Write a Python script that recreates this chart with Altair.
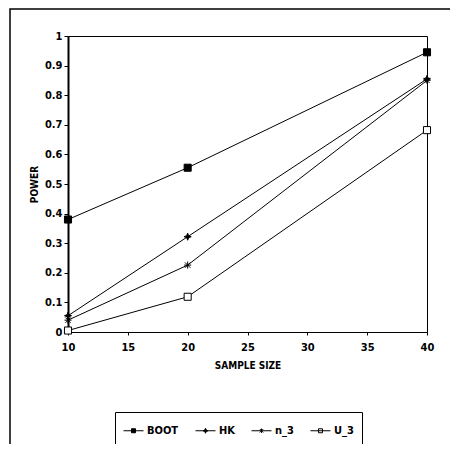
import altair as alt
import pandas as pd

sample_sizes = [10, 20, 40]
series_names = ["BOOT", "HK", "n_3", "U_3"]
boot = [0.38, 0.555, 0.945]
hk = [0.055, 0.322, 0.855]
n3 = [0.04, 0.226, 0.85]
u3 = [0.005, 0.119, 0.682]
x_ticks = [10, 15, 20, 25, 30, 35, 40]
y_ticks = [0, 0.1, 0.2, 0.3, 0.4, 0.5, 0.6, 0.7, 0.8, 0.9, 1]

rows = []
for name, vals in zip(series_names, [boot, hk, n3, u3]):
    for s, v in zip(sample_sizes, vals):
        rows.append({"series": name, "size": s, "power": v})
df = pd.DataFrame(rows)

FONT = "DejaVu Sans Condensed, DejaVu Sans, sans-serif"

star4 = "M0,-1L0.28,-0.28L1,0L0.28,0.28L0,1L-0.28,0.28L-1,0L-0.28,-0.28Z"
aster = "M-1,0L1,0M0,-1L0,1M-0.75,-0.75L0.75,0.75M-0.75,0.75L0.75,-0.75"
plot_shapes = ["square", star4, aster, "square"]
plot_fills = ["black", "black", "white", "white"]

sq = "M-0.2,-0.2L0.2,-0.2L0.2,0.2L-0.2,0.2Z"
leg_shapes = [
    "M-1,0L1,0" + sq,
    "M-1,0L1,0M0,-0.25L0.07,-0.07L0.25,0L0.07,0.07L0,0.25L-0.07,0.07L-0.25,0L-0.07,-0.07Z",
    "M-1,0L1,0M0,-0.22L0,0.22M-0.17,-0.17L0.17,0.17M-0.17,0.17L0.17,-0.17",
    "M-1,0L1,0" + sq,
]

x_enc = alt.X("size:Q", scale=alt.Scale(domain=[10, 40], nice=False, zero=False),
              axis=alt.Axis(title="SAMPLE SIZE", values=x_ticks,
                            grid=False, tickSize=3, labelPadding=6, titlePadding=8,
                            labelFlush=False, labelOverlap=False))
y_enc = alt.Y("power:Q", scale=alt.Scale(domain=[0, 1], nice=False),
              axis=alt.Axis(title="POWER", values=y_ticks,
                            format=".1~f", grid=False, tickSize=4, labelPadding=2,
                            titlePadding=5, domainWidth=2, labelFlush=False, labelOverlap=False))

frame = alt.Chart(pd.DataFrame({"a": [0]})).mark_rect(
    fillOpacity=0, stroke="black", strokeWidth=1.5
).encode(x=alt.value(-58), x2=alt.value(400), y=alt.value(-27), y2=alt.value(430))

lines = alt.Chart(df).mark_line(color="black", strokeWidth=1).encode(
    x=x_enc, y=y_enc, detail="series:N"
)

points = alt.Chart(df).mark_point(stroke="black", strokeWidth=1, opacity=1, size=50).encode(
    x=x_enc, y=y_enc,
    shape=alt.Shape("series:N", scale=alt.Scale(domain=series_names, range=plot_shapes), legend=None),
    fill=alt.Fill("series:N", scale=alt.Scale(domain=series_names, range=plot_fills), legend=None),
)

leg = alt.Legend(title=None, orient="none", legendX=47, legendY=376, direction="horizontal",
                 strokeColor="black", padding=8, symbolSize=400, symbolStrokeWidth=1,
                 labelFont=FONT, labelFontSize=11, labelFontWeight="bold",
                 columnPadding=14, symbolOffset=0, labelOffset=3)

legend_layer = alt.Chart(df).transform_filter("datum.power > 2").mark_point(
    stroke="black", strokeWidth=1, opacity=1
).encode(
    shape=alt.Shape("series:N", scale=alt.Scale(domain=series_names, range=leg_shapes), legend=leg),
    fill=alt.Fill("series:N", scale=alt.Scale(domain=series_names, range=plot_fills), legend=leg),
)

chart = alt.layer(frame, lines, points, legend_layer).resolve_scale(
    shape="independent", fill="independent"
).properties(
    width=359, height=296,
    autosize=alt.AutoSizeParams(type="none"),
    padding={"left": 60, "top": 28, "right": 23, "bottom": 112},
).configure_view(stroke="black", strokeWidth=1).configure_axis(
    labelFont=FONT, titleFont=FONT, labelFontSize=11, titleFontSize=10,
    labelFontWeight="bold", titleFontWeight="bold", labelColor="black", titleColor="black",
    domainColor="black", tickColor="black"
)

chart.save("out.html", embed_options={"renderer": "svg", "actions": False})
